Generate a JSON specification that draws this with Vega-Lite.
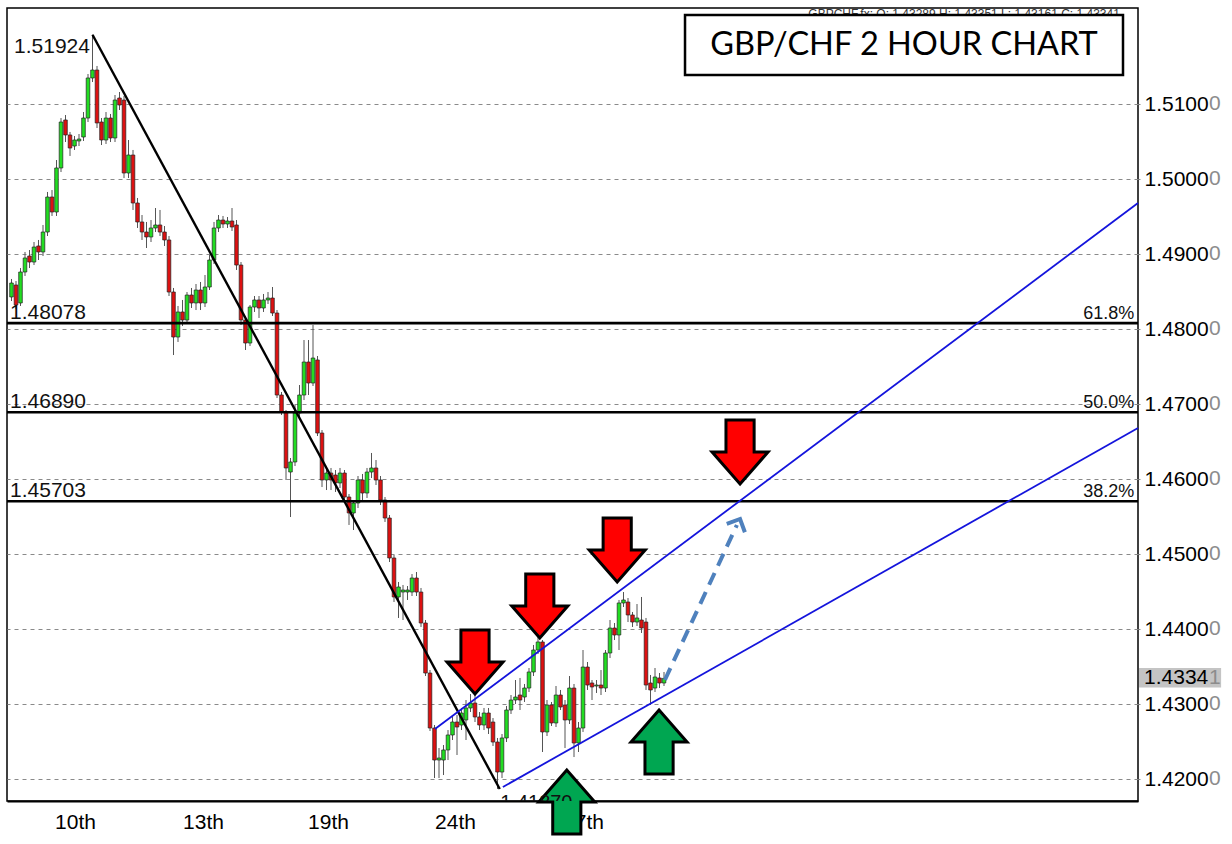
{
"$schema":"https://vega.github.io/schema/vega-lite/v6.json",
"width":1131,"height":793,
"padding":{"left":5,"top":8,"right":0,"bottom":0},
"background":"#ffffff",
"config":{"view":{"stroke":"#000000","strokeWidth":1.5},"font":"Liberation Sans","axis":{"title":null}},
"datasets":{
"candles":[
{"i":1,"o":1.48427,"h":1.48667,"l":1.48373,"c":1.48613},
{"i":2,"o":1.48587,"h":1.48640,"l":1.48267,"c":1.48320},
{"i":3,"o":1.48347,"h":1.48813,"l":1.48307,"c":1.48760},
{"i":4,"o":1.48760,"h":1.49027,"l":1.48707,"c":1.48947},
{"i":5,"o":1.48973,"h":1.49053,"l":1.48813,"c":1.48893},
{"i":6,"o":1.48893,"h":1.49160,"l":1.48853,"c":1.49093},
{"i":7,"o":1.49107,"h":1.49187,"l":1.48920,"c":1.49027},
{"i":8,"o":1.49027,"h":1.49387,"l":1.48973,"c":1.49293},
{"i":9,"o":1.49293,"h":1.49827,"l":1.49240,"c":1.49760},
{"i":10,"o":1.49760,"h":1.49853,"l":1.49507,"c":1.49560},
{"i":11,"o":1.49560,"h":1.50253,"l":1.49507,"c":1.50147},
{"i":12,"o":1.50147,"h":1.50813,"l":1.50093,"c":1.50760},
{"i":13,"o":1.50787,"h":1.50853,"l":1.50493,"c":1.50587},
{"i":14,"o":1.50587,"h":1.50627,"l":1.50307,"c":1.50413},
{"i":15,"o":1.50440,"h":1.50573,"l":1.50387,"c":1.50520},
{"i":16,"o":1.50507,"h":1.50600,"l":1.50440,"c":1.50533},
{"i":17,"o":1.50560,"h":1.50893,"l":1.50507,"c":1.50813},
{"i":18,"o":1.50813,"h":1.51400,"l":1.50760,"c":1.51347},
{"i":19,"o":1.51347,"h":1.51924,"l":1.51293,"c":1.51453},
{"i":20,"o":1.51453,"h":1.51507,"l":1.50680,"c":1.50747},
{"i":21,"o":1.50760,"h":1.50813,"l":1.50453,"c":1.50520},
{"i":22,"o":1.50520,"h":1.50893,"l":1.50467,"c":1.50813},
{"i":23,"o":1.50813,"h":1.50867,"l":1.50493,"c":1.50547},
{"i":24,"o":1.50547,"h":1.51120,"l":1.50493,"c":1.51053},
{"i":25,"o":1.51080,"h":1.51160,"l":1.50920,"c":1.50987},
{"i":26,"o":1.51053,"h":1.51107,"l":1.50013,"c":1.50080},
{"i":27,"o":1.50080,"h":1.50520,"l":1.50013,"c":1.50320},
{"i":28,"o":1.50320,"h":1.50387,"l":1.49587,"c":1.49680},
{"i":29,"o":1.49680,"h":1.49747,"l":1.49347,"c":1.49427},
{"i":30,"o":1.49427,"h":1.49520,"l":1.49187,"c":1.49293},
{"i":31,"o":1.49293,"h":1.49427,"l":1.49080,"c":1.49227},
{"i":32,"o":1.49227,"h":1.49453,"l":1.49160,"c":1.49347},
{"i":33,"o":1.49347,"h":1.49613,"l":1.49293,"c":1.49387},
{"i":34,"o":1.49387,"h":1.49587,"l":1.49240,"c":1.49293},
{"i":35,"o":1.49293,"h":1.49373,"l":1.49107,"c":1.49187},
{"i":36,"o":1.49187,"h":1.49240,"l":1.48440,"c":1.48493},
{"i":37,"o":1.48493,"h":1.48547,"l":1.47653,"c":1.47893},
{"i":38,"o":1.47893,"h":1.48307,"l":1.47827,"c":1.48227},
{"i":39,"o":1.48227,"h":1.48387,"l":1.48040,"c":1.48120},
{"i":40,"o":1.48120,"h":1.48493,"l":1.48067,"c":1.48453},
{"i":41,"o":1.48453,"h":1.48547,"l":1.48280,"c":1.48347},
{"i":42,"o":1.48347,"h":1.48600,"l":1.48253,"c":1.48520},
{"i":43,"o":1.48520,"h":1.48627,"l":1.48253,"c":1.48347},
{"i":44,"o":1.48347,"h":1.48720,"l":1.48293,"c":1.48560},
{"i":45,"o":1.48560,"h":1.48987,"l":1.48520,"c":1.48920},
{"i":46,"o":1.48920,"h":1.49427,"l":1.48867,"c":1.49347},
{"i":47,"o":1.49347,"h":1.49520,"l":1.49293,"c":1.49453},
{"i":48,"o":1.49453,"h":1.49507,"l":1.49347,"c":1.49400},
{"i":49,"o":1.49400,"h":1.49493,"l":1.49347,"c":1.49440},
{"i":50,"o":1.49440,"h":1.49613,"l":1.49307,"c":1.49360},
{"i":51,"o":1.49387,"h":1.49453,"l":1.48787,"c":1.48853},
{"i":52,"o":1.48853,"h":1.48893,"l":1.48053,"c":1.48120},
{"i":53,"o":1.48120,"h":1.48173,"l":1.47720,"c":1.47813},
{"i":54,"o":1.47813,"h":1.48320,"l":1.47773,"c":1.48293},
{"i":55,"o":1.48293,"h":1.48440,"l":1.48227,"c":1.48387},
{"i":56,"o":1.48387,"h":1.48440,"l":1.48147,"c":1.48280},
{"i":57,"o":1.48280,"h":1.48467,"l":1.48227,"c":1.48387},
{"i":58,"o":1.48387,"h":1.48493,"l":1.48333,"c":1.48413},
{"i":59,"o":1.48413,"h":1.48560,"l":1.48173,"c":1.48213},
{"i":60,"o":1.48213,"h":1.48253,"l":1.47080,"c":1.47120},
{"i":61,"o":1.47120,"h":1.47160,"l":1.46853,"c":1.46893},
{"i":62,"o":1.46893,"h":1.46920,"l":1.45987,"c":1.46147},
{"i":63,"o":1.46093,"h":1.46280,"l":1.45493,"c":1.46227},
{"i":64,"o":1.46227,"h":1.46987,"l":1.46173,"c":1.46880},
{"i":65,"o":1.46880,"h":1.47253,"l":1.46813,"c":1.47120},
{"i":66,"o":1.47120,"h":1.47853,"l":1.47053,"c":1.47560},
{"i":67,"o":1.47560,"h":1.47853,"l":1.47120,"c":1.47280},
{"i":68,"o":1.47280,"h":1.48053,"l":1.47240,"c":1.47613},
{"i":69,"o":1.47587,"h":1.47640,"l":1.46573,"c":1.46613},
{"i":70,"o":1.46613,"h":1.46653,"l":1.45893,"c":1.45987},
{"i":71,"o":1.45987,"h":1.46147,"l":1.45853,"c":1.46080},
{"i":72,"o":1.46080,"h":1.46147,"l":1.45853,"c":1.45987},
{"i":73,"o":1.46053,"h":1.46120,"l":1.45827,"c":1.45947},
{"i":74,"o":1.45947,"h":1.46147,"l":1.45880,"c":1.46080},
{"i":75,"o":1.46080,"h":1.46120,"l":1.45720,"c":1.45760},
{"i":76,"o":1.45760,"h":1.45800,"l":1.45387,"c":1.45547},
{"i":77,"o":1.45547,"h":1.45720,"l":1.45320,"c":1.45680},
{"i":78,"o":1.45680,"h":1.46040,"l":1.45613,"c":1.45987},
{"i":79,"o":1.45987,"h":1.46067,"l":1.45720,"c":1.45813},
{"i":80,"o":1.45813,"h":1.46147,"l":1.45747,"c":1.46093},
{"i":81,"o":1.46093,"h":1.46347,"l":1.46013,"c":1.46147},
{"i":82,"o":1.46147,"h":1.46253,"l":1.45920,"c":1.45987},
{"i":83,"o":1.45987,"h":1.46040,"l":1.45653,"c":1.45720},
{"i":84,"o":1.45720,"h":1.45760,"l":1.45427,"c":1.45480},
{"i":85,"o":1.45480,"h":1.45520,"l":1.44893,"c":1.44947},
{"i":86,"o":1.44947,"h":1.44987,"l":1.44360,"c":1.44427},
{"i":87,"o":1.44427,"h":1.44627,"l":1.44147,"c":1.44560},
{"i":88,"o":1.44493,"h":1.44587,"l":1.44120,"c":1.44520},
{"i":89,"o":1.44493,"h":1.44573,"l":1.44387,"c":1.44520},
{"i":90,"o":1.44493,"h":1.44733,"l":1.44440,"c":1.44680},
{"i":91,"o":1.44680,"h":1.44760,"l":1.44440,"c":1.44493},
{"i":92,"o":1.44493,"h":1.44547,"l":1.44027,"c":1.44080},
{"i":93,"o":1.44080,"h":1.44120,"l":1.43373,"c":1.43413},
{"i":94,"o":1.43413,"h":1.43453,"l":1.42640,"c":1.42680},
{"i":95,"o":1.42680,"h":1.42720,"l":1.42013,"c":1.42253},
{"i":96,"o":1.42253,"h":1.42413,"l":1.42013,"c":1.42280},
{"i":97,"o":1.42253,"h":1.42453,"l":1.42053,"c":1.42387},
{"i":98,"o":1.42387,"h":1.42653,"l":1.42253,"c":1.42587},
{"i":99,"o":1.42587,"h":1.42840,"l":1.42520,"c":1.42760},
{"i":100,"o":1.42760,"h":1.42853,"l":1.42320,"c":1.42693},
{"i":101,"o":1.42720,"h":1.42947,"l":1.42653,"c":1.42880},
{"i":102,"o":1.42787,"h":1.43053,"l":1.42520,"c":1.42947},
{"i":103,"o":1.42947,"h":1.43133,"l":1.42893,"c":1.43013},
{"i":104,"o":1.43013,"h":1.43187,"l":1.42760,"c":1.42827},
{"i":105,"o":1.42827,"h":1.42893,"l":1.42653,"c":1.42720},
{"i":106,"o":1.42720,"h":1.42947,"l":1.42653,"c":1.42880},
{"i":107,"o":1.42880,"h":1.42947,"l":1.42600,"c":1.42680},
{"i":108,"o":1.42760,"h":1.42813,"l":1.42440,"c":1.42493},
{"i":109,"o":1.42493,"h":1.42547,"l":1.41867,"c":1.42093},
{"i":110,"o":1.42093,"h":1.42600,"l":1.42013,"c":1.42547},
{"i":111,"o":1.42547,"h":1.42973,"l":1.42493,"c":1.42920},
{"i":112,"o":1.42920,"h":1.43120,"l":1.42867,"c":1.43053},
{"i":113,"o":1.43053,"h":1.43320,"l":1.43000,"c":1.43093},
{"i":114,"o":1.43120,"h":1.43347,"l":1.42920,"c":1.43053},
{"i":115,"o":1.43093,"h":1.43267,"l":1.43027,"c":1.43213},
{"i":116,"o":1.43213,"h":1.43480,"l":1.43160,"c":1.43427},
{"i":117,"o":1.43427,"h":1.43787,"l":1.43373,"c":1.43720},
{"i":118,"o":1.43720,"h":1.43893,"l":1.43667,"c":1.43827},
{"i":119,"o":1.43827,"h":1.43853,"l":1.42360,"c":1.42627},
{"i":120,"o":1.42627,"h":1.43053,"l":1.42573,"c":1.42987},
{"i":121,"o":1.42987,"h":1.43027,"l":1.42707,"c":1.42747},
{"i":122,"o":1.42747,"h":1.43240,"l":1.42693,"c":1.43120},
{"i":123,"o":1.43120,"h":1.43187,"l":1.42920,"c":1.42960},
{"i":124,"o":1.42987,"h":1.43053,"l":1.42413,"c":1.42787},
{"i":125,"o":1.42787,"h":1.43373,"l":1.42733,"c":1.43213},
{"i":126,"o":1.43213,"h":1.43267,"l":1.42293,"c":1.42480},
{"i":127,"o":1.42480,"h":1.42760,"l":1.42360,"c":1.42680},
{"i":128,"o":1.42680,"h":1.43720,"l":1.42627,"c":1.43493},
{"i":129,"o":1.43493,"h":1.43560,"l":1.43187,"c":1.43253},
{"i":130,"o":1.43280,"h":1.43320,"l":1.43053,"c":1.43227},
{"i":131,"o":1.43240,"h":1.43320,"l":1.43147,"c":1.43253},
{"i":132,"o":1.43253,"h":1.43453,"l":1.43120,"c":1.43213},
{"i":133,"o":1.43213,"h":1.43720,"l":1.43160,"c":1.43680},
{"i":134,"o":1.43680,"h":1.44120,"l":1.43613,"c":1.44013},
{"i":135,"o":1.44013,"h":1.44080,"l":1.43853,"c":1.43920},
{"i":136,"o":1.43920,"h":1.44387,"l":1.43720,"c":1.44347},
{"i":137,"o":1.44347,"h":1.44493,"l":1.44293,"c":1.44387},
{"i":138,"o":1.44360,"h":1.44413,"l":1.44093,"c":1.44187},
{"i":139,"o":1.44187,"h":1.44227,"l":1.44027,"c":1.44093},
{"i":140,"o":1.44093,"h":1.44333,"l":1.44040,"c":1.44147},
{"i":141,"o":1.44120,"h":1.44427,"l":1.43947,"c":1.44013},
{"i":142,"o":1.44093,"h":1.44147,"l":1.43187,"c":1.43253},
{"i":143,"o":1.43280,"h":1.43387,"l":1.42987,"c":1.43187},
{"i":144,"o":1.43213,"h":1.43480,"l":1.43160,"c":1.43360},
{"i":145,"o":1.43347,"h":1.43413,"l":1.43213,"c":1.43280},
{"i":146,"o":1.43280,"h":1.43427,"l":1.43240,"c":1.43341}
],
"fib":[
{"p":1.48078,"pct":"61.8%"},
{"p":1.46890,"pct":"50.0%"},
{"p":1.45703,"pct":"38.2%"}
],
"levels":[{"p":1.42},{"p":1.43},{"p":1.44},{"p":1.45},{"p":1.46},{"p":1.47},{"p":1.48},{"p":1.49},{"p":1.50},{"p":1.51}],
"trend":[{"x":19,"y":1.51924},{"x":109.5,"y":1.41867}],
"channel":[
{"name":"upper","x":95.1,"y":1.42667},{"name":"upper","x":251.333,"y":1.4968},
{"name":"lower","x":110.2,"y":1.41893},{"name":"lower","x":251.333,"y":1.4668}
],
"path":[{"x":146.2,"y":1.4332},{"x":162.2,"y":1.45387}],
"head":[{"x":162.9,"y":1.45467}],
"arrows":[
{"dir":"down","x":104,"y":1.4356},
{"dir":"down","x":118.4,"y":1.44307},
{"dir":"down","x":135.6,"y":1.45053},
{"dir":"down","x":162.9,"y":1.4636},
{"dir":"up","x":124.4,"y":1.41693},
{"dir":"up","x":144.9,"y":1.42493}
],
"box":[{"x":150.67,"x2":248,"y":1.52187,"y2":1.51387,"tx":199.33,"ty":1.51787,"label":"GBP/CHF 2 HOUR CHART"}],
"header":[{"x":247.3,"y":1.52195,"label":"GBPCHF,fx: O: 1.43289 H: 1.43351 L: 1.43161 C: 1.43341"}],
"notes":[{"x":1.56,"y":1.5176,"label":"1.51924"}],
"low":[{"x":109.6,"y":1.41813,"label":"1.41870"}],
"tag":[{"x":251.56,"x2":269.8,"y":1.4348,"y2":1.4322,"tx":252.67,"ty":1.43341,"label":"1.4334","last":"1"}]
},
"layer":[
{"data":{"name":"candles"},"mark":{"type":"rule","color":"#555555","strokeWidth":1},
 "encoding":{
  "x":{"field":"i","type":"quantitative","scale":{"domain":[0,251.333],"nice":false,"zero":false,"padding":0},
   "axis":{"values":[15.11,43.56,71.33,99.56,128],"labelExpr":"datum.value < 20 ? '10th' : datum.value < 50 ? '13th' : datum.value < 80 ? '19th' : datum.value < 110 ? '24th' : '27th'","grid":false,"ticks":false,"domain":true,"domainColor":"#000000","domainWidth":2,"labelFontSize":21,"labelColor":"#000000","labelPadding":10,"labelFont":"Liberation Sans","title":null}},
  "y":{"field":"l","type":"quantitative","scale":{"domain":[1.417067,1.5228],"nice":false,"zero":false,"padding":0},
   "axis":{"orient":"right","values":[1.42,1.43,1.44,1.45,1.46,1.47,1.48,1.49,1.5,1.51],"format":".4f","grid":true,"gridDash":[4,4],"gridColor":"#8a8a8a","gridWidth":1,"tickSize":4,"tickColor":"#8a8a8a","tickDash":[2,2],"domain":false,"labelFontSize":21,"labelColor":"#000000","labelPadding":2,"labelFont":"Liberation Sans","title":null}},
  "y2":{"field":"h"}}},
{"data":{"name":"candles"},"mark":{"type":"bar","width":3.6,"stroke":"#222222","strokeWidth":0.7},
 "encoding":{"x":{"field":"i","type":"quantitative"},"y":{"field":"o","type":"quantitative"},"y2":{"field":"c"},
  "fill":{"condition":{"test":"datum.c >= datum.o","value":"#22DD22"},"value":"#DD1111"}}},
{"data":{"name":"fib"},"mark":{"type":"rule","color":"#000000","strokeWidth":2.6},
 "encoding":{"y":{"field":"p","type":"quantitative"}}},
{"data":{"name":"fib"},"mark":{"type":"text","align":"left","baseline":"alphabetic","dy":-4,"fontSize":21,"color":"#111111"},
 "encoding":{"x":{"datum":0.67,"type":"quantitative"},"y":{"field":"p","type":"quantitative"},"text":{"field":"p","format":".5f"}}},
{"data":{"name":"fib"},"mark":{"type":"text","align":"right","baseline":"alphabetic","dy":-4,"fontSize":18,"color":"#111111"},
 "encoding":{"x":{"datum":250.5,"type":"quantitative"},"y":{"field":"p","type":"quantitative"},"text":{"field":"pct"}}},
{"data":{"name":"levels"},"mark":{"type":"text","align":"left","baseline":"middle","fontSize":21,"color":"#8c8c8c"},
 "encoding":{"x":{"datum":267.1,"type":"quantitative"},"y":{"field":"p","type":"quantitative"},"text":{"value":"0"}}},
{"data":{"name":"trend"},"mark":{"type":"line","color":"#000000","strokeWidth":2.4},
 "encoding":{"x":{"field":"x","type":"quantitative"},"y":{"field":"y","type":"quantitative"}}},
{"data":{"name":"channel"},"mark":{"type":"line","color":"#1414DC","strokeWidth":1.8},
 "encoding":{"x":{"field":"x","type":"quantitative"},"y":{"field":"y","type":"quantitative"},"detail":{"field":"name"}}},
{"data":{"name":"path"},"mark":{"type":"line","color":"#4F81BD","strokeWidth":4,"strokeDash":[13,8]},
 "encoding":{"x":{"field":"x","type":"quantitative"},"y":{"field":"y","type":"quantitative"}}},
{"data":{"name":"head"},"mark":{"type":"point","shape":"M-1,1L0,0L1,1","size":400,"filled":false,"stroke":"#4F81BD","strokeWidth":4,"angle":25,"opacity":1},
 "encoding":{"x":{"field":"x","type":"quantitative"},"y":{"field":"y","type":"quantitative"}}},
{"data":{"name":"arrows"},"mark":{"type":"point","size":4096,"filled":true,"stroke":"#000000","strokeWidth":3,"opacity":1},
 "encoding":{"x":{"field":"x","type":"quantitative"},"y":{"field":"y","type":"quantitative"},
  "shape":{"field":"dir","type":"nominal","scale":{"domain":["down","up"],"range":["M-0.44,-1L0.44,-1L0.44,0L0.875,0L0,1L-0.875,0L-0.44,0Z","M-0.44,1L0.44,1L0.44,0L0.875,0L0,-1L-0.875,0L-0.44,0Z"]},"legend":null},
  "fill":{"field":"dir","type":"nominal","scale":{"domain":["down","up"],"range":["#FF0000","#00A651"]},"legend":null}}},
{"data":{"name":"notes"},"mark":{"type":"text","align":"left","baseline":"middle","fontSize":21,"color":"#111111"},
 "encoding":{"x":{"field":"x","type":"quantitative"},"y":{"field":"y","type":"quantitative"},"text":{"field":"label"}}},
{"data":{"name":"low"},"mark":{"type":"text","align":"left","baseline":"top","fontSize":20,"color":"#111111","clip":true},
 "encoding":{"x":{"field":"x","type":"quantitative"},"y":{"field":"y","type":"quantitative"},"text":{"field":"label"}}},
{"data":{"name":"header"},"mark":{"type":"text","align":"right","baseline":"middle","fontSize":12,"color":"#333333"},
 "encoding":{"x":{"field":"x","type":"quantitative"},"y":{"field":"y","type":"quantitative"},"text":{"field":"label"}}},
{"data":{"name":"box"},"mark":{"type":"rect","fill":"#ffffff","stroke":"#000000","strokeWidth":2.5},
 "encoding":{"x":{"field":"x","type":"quantitative"},"x2":{"field":"x2"},"y":{"field":"y","type":"quantitative"},"y2":{"field":"y2"}}},
{"data":{"name":"box"},"mark":{"type":"text","align":"center","baseline":"middle","fontSize":32.5,"font":"Lato","color":"#000000"},
 "encoding":{"x":{"field":"tx","type":"quantitative"},"y":{"field":"ty","type":"quantitative"},"text":{"field":"label"}}},
{"data":{"name":"tag"},"mark":{"type":"rect","fill":"#C4C4C4"},
 "encoding":{"x":{"field":"x","type":"quantitative"},"x2":{"field":"x2"},"y":{"field":"y","type":"quantitative"},"y2":{"field":"y2"}}},
{"data":{"name":"tag"},"mark":{"type":"text","align":"left","baseline":"middle","fontSize":21,"color":"#000000"},
 "encoding":{"x":{"field":"tx","type":"quantitative"},"y":{"field":"ty","type":"quantitative"},"text":{"field":"label"}}},
{"data":{"name":"tag"},"mark":{"type":"text","align":"left","baseline":"middle","fontSize":21,"color":"#8c8c8c"},
 "encoding":{"x":{"datum":267.1,"type":"quantitative"},"y":{"field":"ty","type":"quantitative"},"text":{"field":"last"}}}
]
}
